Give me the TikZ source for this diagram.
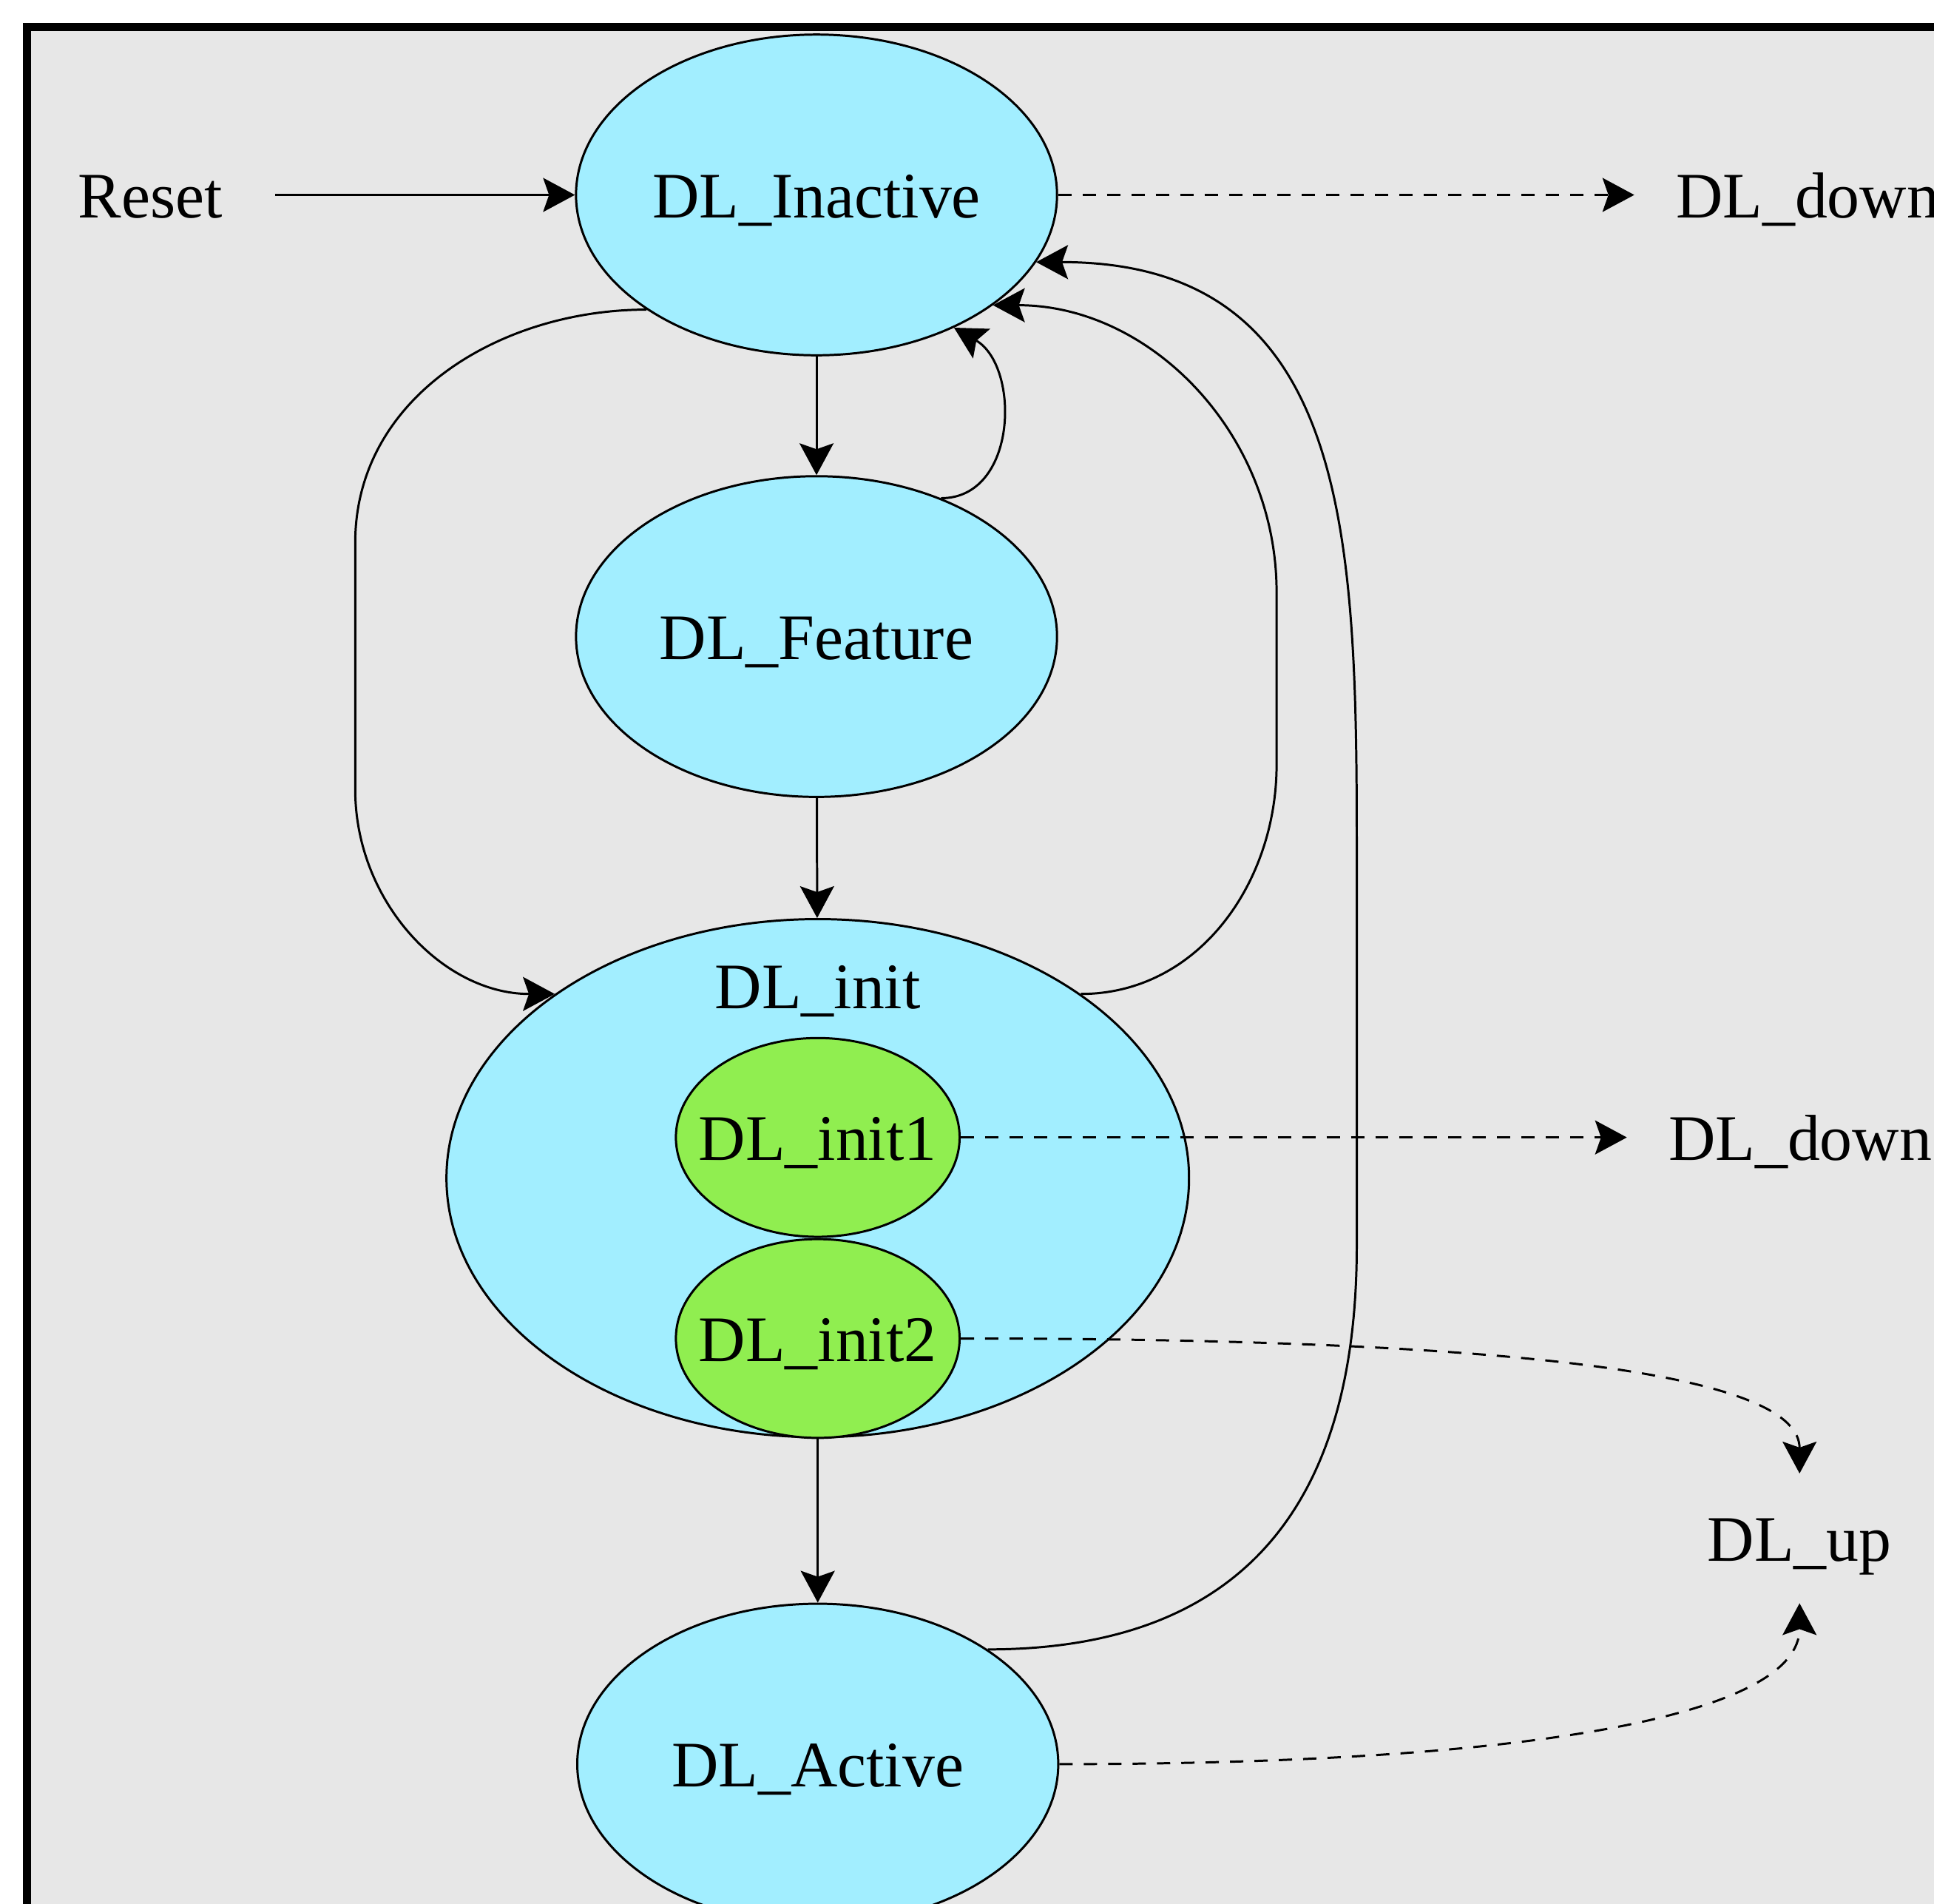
\documentclass[tikz,border=0pt]{standalone}
\usepackage{fontspec}
\setmainfont{Liberation Serif}
\usepackage{tikz}
\usetikzlibrary{arrows.meta,shapes.geometric}
\definecolor{statefill}{RGB}{162,238,255}
\definecolor{subfill}{RGB}{144,238,80}
\definecolor{panel}{RGB}{231,231,231}

\begin{document}
\begin{tikzpicture}[x=0.0167cm, y=0.0167cm, -{Stealth[length=4.3mm,width=4.6mm,inset=0.8mm]}, line width=0.85pt,
      every node/.append style={font=\fontsize{25}{30}\selectfont, text height=22.5pt, text depth=5pt},
      state/.style={ellipse, draw, fill=statefill, inner sep=0pt, minimum width=6.51cm, minimum height=4.34cm},
      substate/.style={ellipse, draw, fill=subfill, inner xsep=-3mm, inner ysep=0pt, minimum width=3.84cm, minimum height=2.69cm},
      event/.style={inner xsep=5.5mm, inner ysep=3.8mm}]
    \tikzstyle{signal} = [dash pattern=on 1.8mm off 1.5mm]
    \useasboundingbox[fill=white] (0,0) rectangle (1568,-1543);
    \clip (0,0) rectangle (1568,-1543);
    \draw[-, line width=3.1pt, fill=panel] (22,-22) rectangle (1640,-1640);
    \node [state] (inactive) at (662,-158) {DL\_Inactive};
    \node [state] (feature) at (662,-516) {DL\_Feature};
    \node [state, minimum width=10.05cm, minimum height=7.01cm] (init) at (663,-955) {};
    \node (init_label) at (663,-799) {DL\_init};
    \node [substate] (init_1) at (663,-922) {DL\_init1};
    \node [substate] (init_2) at (663,-1085) {DL\_init2};
    \node [state] (active) at (663,-1430) {DL\_Active};
    \node [event] (reset) at (122,-158) {Reset};
    \node [event, anchor=west] (down_top) at (1325,-158) {DL\_down};
    \node [event, anchor=west] (down_init) at (1319,-922) {DL\_down};
    \node [event] (up) at (1459,-1247) {DL\_up};
    \coordinate (left_top) at (288,-440);
    \coordinate (left_bot) at (288,-640);
    \coordinate (right_top) at (1035,-480);
    \coordinate (right_bot) at (1035,-620);
    \coordinate (far_top) at (1100,-690);
    \coordinate (far_bot) at (1100,-1010);
    \draw[shorten <=1.5mm] (reset) -- (inactive);
    \draw (inactive) -- (feature);
    \draw (feature) -- (init);
    \draw (init.south) -- (active);
    \draw (feature.48) to[out=0,in=-30,looseness=1.15] (inactive.-44);
    \draw (inactive.214) to[out=180,in=90] (left_top) -- (left_bot) to[out=-90,in=180] (init.145);
    \draw (init.35) to[out=0,in=-90] (right_bot) -- (right_top) to[out=90,in=0] (inactive.-32);
    \draw (active.34) to[out=0,in=-90,looseness=1.2] (far_bot) -- (far_top) to[out=90,in=0,looseness=1.2] (inactive.-17);
    \draw[signal] (inactive) -- (down_top);
    \draw[signal] (init_1) -- (down_init);
    \draw[signal] (init_2.east) to[out=0,in=90,out distance=7.9cm,in distance=1.3cm] (up.north);
    \draw[signal] (active.east) to[out=0,in=-90,out distance=6.5cm,in distance=1.5cm] (up.south);
  \end{tikzpicture}
\end{document}
